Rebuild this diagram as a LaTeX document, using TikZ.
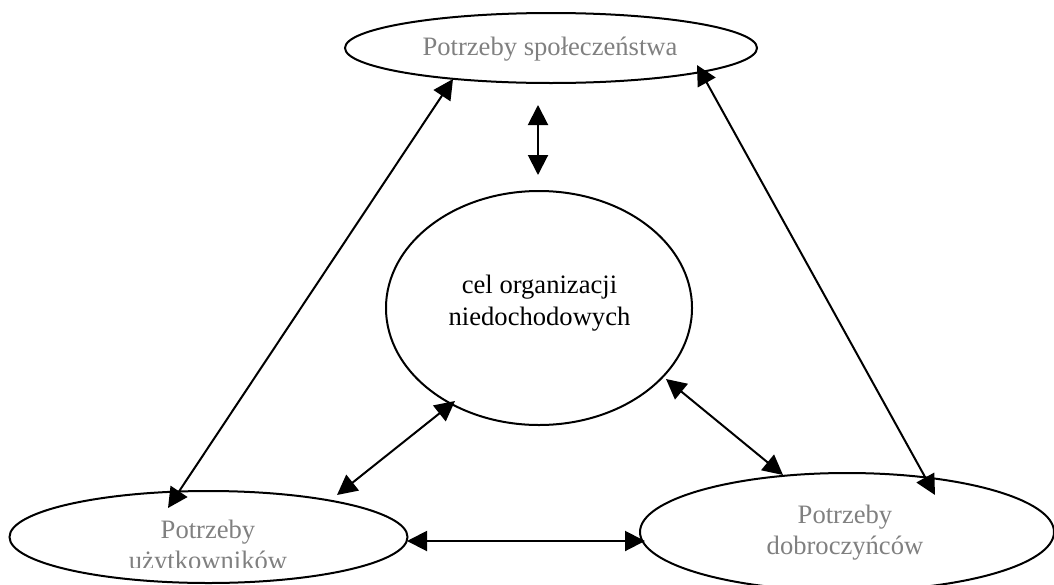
\documentclass[tikz,border=0pt]{standalone}
\usepackage{fontspec}
\setmainfont{Liberation Serif}
\usetikzlibrary{shapes.geometric,arrows.meta}
\definecolor{greytext}{HTML}{808080}
\tikzset{
  oval/.style={ellipse, draw=black, line width=1pt, inner sep=0pt},
  txt/.style={font=\fontsize{13.3}{15.5}\selectfont, align=center, inner sep=0pt},
  greyt/.style={txt, text=greytext},
  link/.style={line width=1pt, {Triangle[length=10pt,width=10pt]}-{Triangle[length=10pt,width=10pt]}}
}
\begin{document}
\begin{tikzpicture}[x=0.5pt,y=-0.5pt]
\useasboundingbox (0,0) rectangle (1054,584);
% shapes
\node[oval, minimum width=206pt, minimum height=35pt] (soc) at (551,48) {};
\node[oval, minimum width=153pt, minimum height=117pt] (cel) at (539,308) {};
\node[oval, minimum width=199pt, minimum height=46pt] (users) at (208.5,537) {};
\node[oval, minimum width=207pt, minimum height=59pt] (donors) at (847,532) {};
% texts
\node[greyt, anchor=base] (socT) at (550,55) {Potrzeby społeczeństwa};
\node[txt, font=\fontsize{13.3}{16}\selectfont] (celT) at (539.5,303) {cel organizacji\\niedochodowych};
\begin{scope}
  \clip (0,0) rectangle (1054,567);
  \node[greyt] (usersT) at (208,547.4) {Potrzeby\\użytkowników};
\end{scope}
\node[greyt] (donorsT) at (845,532.4) {Potrzeby\\dobroczyńców};
% connector ends
\coordinate (a1s) at (168,508);  \coordinate (a1e) at (453,79);
\coordinate (a2s) at (697,65);   \coordinate (a2e) at (935,495);
\coordinate (a3s) at (538,105);  \coordinate (a3e) at (538,175);
\coordinate (a4s) at (455,401);  \coordinate (a4e) at (337,495);
\coordinate (a5s) at (666,379);  \coordinate (a5e) at (783,475);
\coordinate (a6s) at (407,541);  \coordinate (a6e) at (645,541);
% connectors
\draw[link] (a1s) -- (a1e);
\draw[link] (a2s) -- (a2e);
\draw[link] (a3s) -- (a3e);
\draw[link] (a4s) -- (a4e);
\draw[link] (a5s) -- (a5e);
\draw[link] (a6s) -- (a6e);
\end{tikzpicture}
\end{document}
